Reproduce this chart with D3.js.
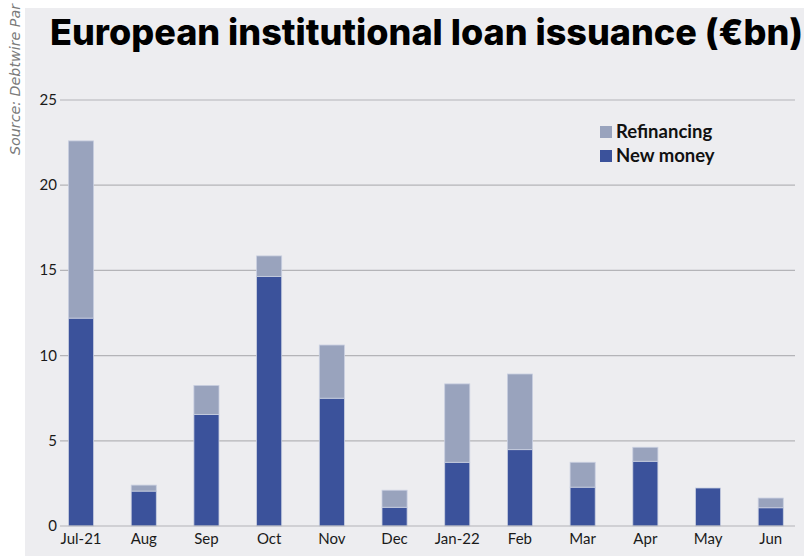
<!DOCTYPE html>
<html>
<head>
<meta charset="utf-8">
<script src="https://cdn.jsdelivr.net/npm/d3@7"></script>
<style>
  body { margin: 0; background: #fff; }
  svg { display: block; }
</style>
</head>
<body>
<div id="chart"></div>
<script>
// Chart data (values in €bn).
const months = ['Jul-21', 'Aug', 'Sep', 'Oct', 'Nov', 'Dec', 'Jan-22', 'Feb', 'Mar', 'Apr', 'May', 'Jun']
const newMoney = [12.2, 2.05, 6.55, 14.65, 7.5, 1.1, 3.74, 4.48, 2.28, 3.8, 2.23, 1.07]
const refinancing = [10.4, 0.35, 1.7, 1.2, 3.12, 1.0, 4.6, 4.44, 1.46, 0.82, 0, 0.57]
const yTicks = [0, 5, 10, 15, 20, 25]

const width = 804, height = 556

const svg = d3.select('#chart')
  .append('svg')
    .attr('width', width)
    .attr('height', height)

// Grey panel behind everything but the source strip.
svg.append('rect')
  .attr('x', 25).attr('y', 8)
  .attr('width', width - 25).attr('height', height - 8)
  .attr('fill', '#ededf0')

// Source note, rotated along the left edge.
svg.append('text')
  .attr('transform', 'translate(20,155) rotate(-90)')
  .attr('font-family', 'DejaVu Sans, sans-serif')
  .attr('font-style', 'italic')
  .attr('font-size', 14.5)
  .attr('textLength', 151)
  .attr('lengthAdjust', 'spacingAndGlyphs')
  .attr('fill', '#7a7a7a')
  .text('Source: Debtwire Par')

// Title.
svg.append('text')
  .attr('x', 50).attr('y', 45)
  .attr('font-family', 'Inter, sans-serif')
  .attr('font-weight', 800)
  .attr('font-size', 36)
  .attr('fill', '#000')
  .text('European institutional loan issuance (€bn)')

const x = d3.scaleBand()
  .domain(months)
  .range([49.7, 802.1])
  .paddingInner(0.6)
  .paddingOuter(0.3)

const y = d3.scaleLinear()
  .domain([0, 25])
  .range([526, 100])

// Gridlines and y labels.
const grid = svg.append('g')
grid.selectAll('line')
  .data(yTicks.filter(d => d > 0))
  .enter()
  .append('line')
    .attr('x1', 60).attr('x2', 795)
    .attr('y1', d => y(d)).attr('y2', d => y(d))
    .attr('stroke', '#b4b4b8')
    .attr('stroke-width', 1.2)

svg.append('g')
  .selectAll('text')
  .data(yTicks)
  .enter()
  .append('text')
    .attr('x', 57)
    .attr('y', d => y(d) + 5)
    .attr('text-anchor', 'end')
    .attr('font-family', 'Lato, sans-serif')
    .attr('font-size', 15)
    .attr('fill', '#1a1a1a')
    .text(d => d)

// Stacked bars.
const stack = d3.stack().keys(['newMoney', 'refinancing'])
const rows = months.map((m, i) => ({ month: m, newMoney: newMoney[i], refinancing: refinancing[i] }))
const series = stack(rows)
const colours = { newMoney: '#3b529b', refinancing: '#99a3bd' }

svg.append('g')
  .selectAll('g')
  .data(series)
  .enter()
  .append('g')
    .attr('fill', d => colours[d.key])
  .selectAll('rect')
  .data(d => d.filter(p => p[1] - p[0] > 0))
  .enter()
  .append('rect')
    .attr('x', d => x(d.data.month))
    .attr('y', d => y(d[1]))
    .attr('width', x.bandwidth())
    .attr('height', d => y(d[0]) - y(d[1]))
    .attr('stroke', '#c9cfe0')
    .attr('stroke-width', 0.8)

// Bottom axis line.
svg.append('line')
  .attr('x1', 60).attr('x2', 795)
  .attr('y1', y(0)).attr('y2', y(0))
  .attr('stroke', '#b4b4b8')
  .attr('stroke-width', 1.2)

// Month labels.
svg.append('g')
  .selectAll('text')
  .data(months)
  .enter()
  .append('text')
    .attr('x', d => x(d) + x.bandwidth() / 2)
    .attr('y', 544)
    .attr('text-anchor', 'middle')
    .attr('font-family', 'Lato, sans-serif')
    .attr('font-size', 15)
    .attr('fill', '#1a1a1a')
    .text(d => d)

// Legend.
const legendItems = [
  { label: 'Refinancing', colour: colours.refinancing },
  { label: 'New money', colour: colours.newMoney }
]
const legend = svg.append('g')
  .selectAll('g')
  .data(legendItems)
  .enter()
  .append('g')
    .attr('transform', (d, i) => 'translate(600,' + (126 + i * 24) + ')')
legend.append('rect')
  .attr('width', 12).attr('height', 12)
  .attr('fill', d => d.colour)
legend.append('text')
  .attr('x', 16).attr('y', 12)
  .attr('font-family', 'Lato, sans-serif')
  .attr('font-weight', 700)
  .attr('font-size', 18.5)
  .attr('fill', '#111')
  .text(d => d.label)
</script>
</body>
</html>
